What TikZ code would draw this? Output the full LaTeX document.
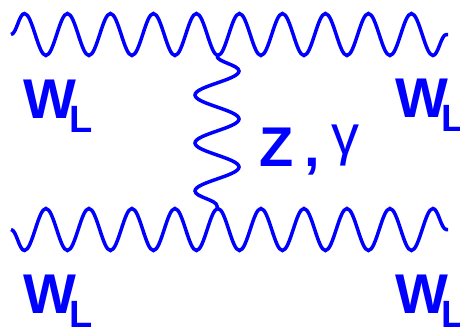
\documentclass[tikz,border=0pt]{standalone}
\usepackage{fontspec}
\setmainfont{Liberation Sans}
\usetikzlibrary{decorations.pathmorphing}

\newcommand{\WL}{W\kern-7pt\raisebox{-14pt}{\fontsize{38}{40}\selectfont L}}

\begin{document}
\begin{tikzpicture}[x=1pt, y=-1pt]
  \tikzset{
    wline/.style={blue, line width=3.5pt, decorate,
      decoration={snake, segment length=43pt, amplitude=21pt}},
    zline/.style={blue, line width=3.5pt, decorate,
      decoration={snake, segment length=48pt, amplitude=22pt}},
    wlabel/.style={blue, inner sep=0pt, anchor=base west,
      font=\fontsize{56}{60}\selectfont\bfseries},
  }
  \useasboundingbox (0,0) rectangle (460,330);

  % Ends of the W lines
  \coordinate (tl) at (11,34.5);
  \coordinate (tr) at (448,34.5);
  \coordinate (bl) at (11,229.5);
  \coordinate (br) at (448,229.5);

  % Vertices
  \coordinate (vt) at (217,56);
  \coordinate (vb) at (217,208);

  % W lines
  \draw[wline] (tl) -- (tr);
  \draw[wline, decoration={mirror}] (bl) -- (br);

  % Exchanged boson
  \draw[zline] (vt) -- (vb);

  % Labels
  \node[wlabel] (wtl) at (23,118) {\WL};
  \node[wlabel] (wtr) at (395,117) {\WL};
  \node[wlabel] (wbl) at (23,313) {\WL};
  \node[wlabel] (wbr) at (395,313) {\WL};
  \node[wlabel] (zg) at (259,166) {Z\hspace{11pt},\hspace{12pt}\raisebox{12pt}{\mdseries γ}};
\end{tikzpicture}
\end{document}
